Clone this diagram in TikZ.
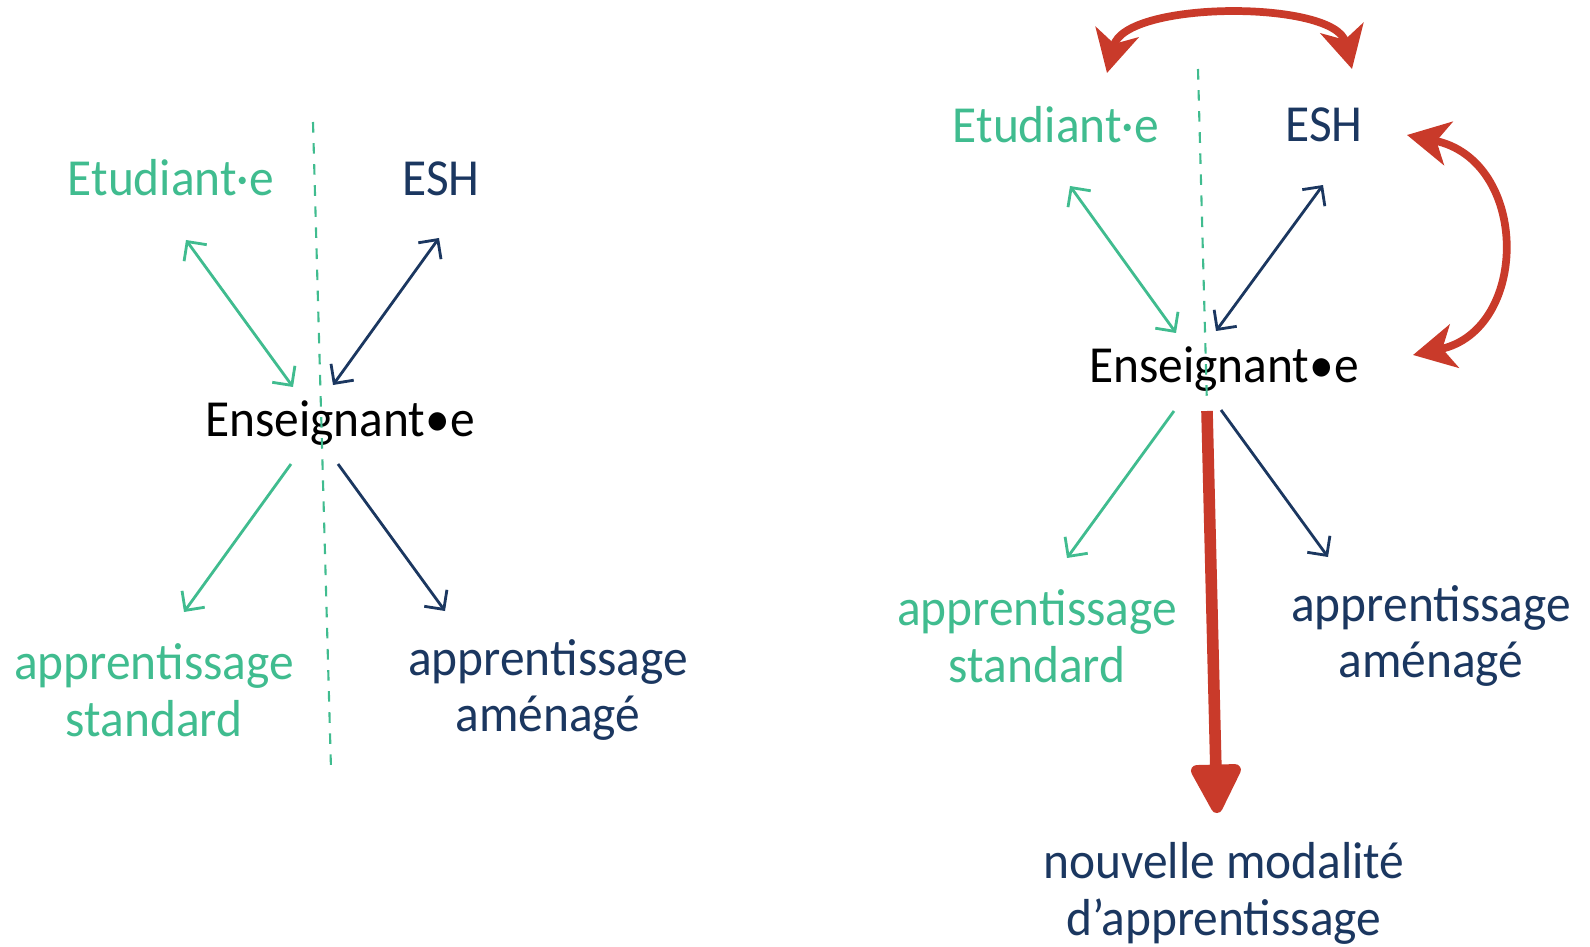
\documentclass[tikz,border=0pt]{standalone}
\usepackage{fontspec}
\setmainfont{Carlito}[FakeStretch=0.95]
\usepackage{tikz}
\usetikzlibrary{arrows.meta}

\definecolor{vert}{HTML}{40BC8F}
\definecolor{marine}{HTML}{1B3760}
\definecolor{rouge}{HTML}{C93A2A}

\begin{document}
\begin{tikzpicture}[-,
                    txt/.style={font=\fontsize{14.8}{16.2}\selectfont,inner sep=0pt,align=center},
                    etu/.style={txt,text=vert},
                    esh/.style={txt,text=marine},
                    ens/.style={txt,text=black},
                    lien/.style={line width=0.8pt,{Straight Barb[length=1.4mm,width=2.8mm]}-{Straight Barb[length=1.4mm,width=2.8mm]}},
                    fleche/.style={line width=0.8pt,-{Straight Barb[length=1.4mm,width=2.8mm]}},
                    coupe/.style={vert,dashed,line width=0.6pt},
                    boucle/.style={rouge,line width=2.2pt,{Stealth[length=4.2mm,width=4.4mm,inset=1.2mm]}-{Stealth[length=4.2mm,width=4.4mm,inset=1.2mm]}}]
  \useasboundingbox (0,0) rectangle (15.9,-9.47);

  %gauche%
  \node[etu] (etu1) at (1.71,-1.78) {Etudiant·e};
  \node[esh] (esh1) at (4.41,-1.79) {ESH};
  \node[ens] (ens1) at (3.40,-4.23) {Enseignant•e};
  \node[etu] (std1) at (1.54,-6.90) {apprentissage\\standard};
  \node[esh] (amg1) at (5.48,-6.90) {apprentissage\\aménagé};

  \coordinate (c1) at (3.13,-1.22);
  \coordinate (c2) at (3.31,-7.69);
  \draw[coupe] (c1) -- (c2);

  \coordinate (a1) at (1.86,-2.40); \coordinate (a2) at (2.93,-3.87);
  \coordinate (a3) at (4.39,-2.38); \coordinate (a4) at (3.33,-3.85);
  \coordinate (a5) at (2.91,-4.64); \coordinate (a6) at (1.84,-6.12);
  \coordinate (a7) at (3.38,-4.64); \coordinate (a8) at (4.45,-6.11);
  \draw[lien,vert] (a1) -- (a2);
  \draw[lien,marine] (a3) -- (a4);
  \draw[fleche,vert] (a5) -- (a6);
  \draw[fleche,marine] (a7) -- (a8);

  %droite%
  \node[etu] (etu2) at (10.56,-1.25) {Etudiant·e};
  \node[esh] (esh2) at (13.24,-1.25) {ESH};
  \node[ens] (ens2) at (12.24,-3.69) {Enseignant•e};
  \node[etu] (std2) at (10.37,-6.36) {apprentissage\\standard};
  \node[esh] (amg2) at (14.31,-6.36) {apprentissage\\aménagé};
  \node[esh] (nouv) at (12.24,-8.93) {nouvelle modalité\\d’apprentissage};

  \coordinate (d1) at (11.98,-0.69);
  \coordinate (d2) at (12.07,-4.06);
  \draw[coupe] (d1) -- (d2);

  \coordinate (b1) at (10.70,-1.86); \coordinate (b2) at (11.76,-3.33);
  \coordinate (b3) at (13.23,-1.85); \coordinate (b4) at (12.16,-3.31);
  \coordinate (b5) at (11.74,-4.11); \coordinate (b6) at (10.67,-5.58);
  \coordinate (b7) at (12.21,-4.10); \coordinate (b8) at (13.28,-5.57);
  \draw[lien,vert] (b1) -- (b2);
  \draw[lien,marine] (b3) -- (b4);
  \draw[fleche,vert] (b5) -- (b6);
  \draw[fleche,marine] (b7) -- (b8);

  \coordinate (r1) at (12.07,-4.11);
  \coordinate (r2) at (12.17,-8.13);
  \draw[rouge,line width=3.3pt,-{Triangle[length=5.6mm,width=5.4mm,round]}] (r1) -- (r2);

  \coordinate (h1) at (11.07,-0.73);
  \coordinate (h2) at (13.52,-0.69);
  \draw[boucle] (h1) .. controls (11.25,0.0) and (13.35,0.0) .. (h2);

  \coordinate (v1) at (14.07,-1.35);
  \coordinate (v2) at (14.13,-3.55);
  \draw[boucle] (v1) .. controls (15.3,-1.6) and (15.3,-3.3) .. (v2);
\end{tikzpicture}
\end{document}
